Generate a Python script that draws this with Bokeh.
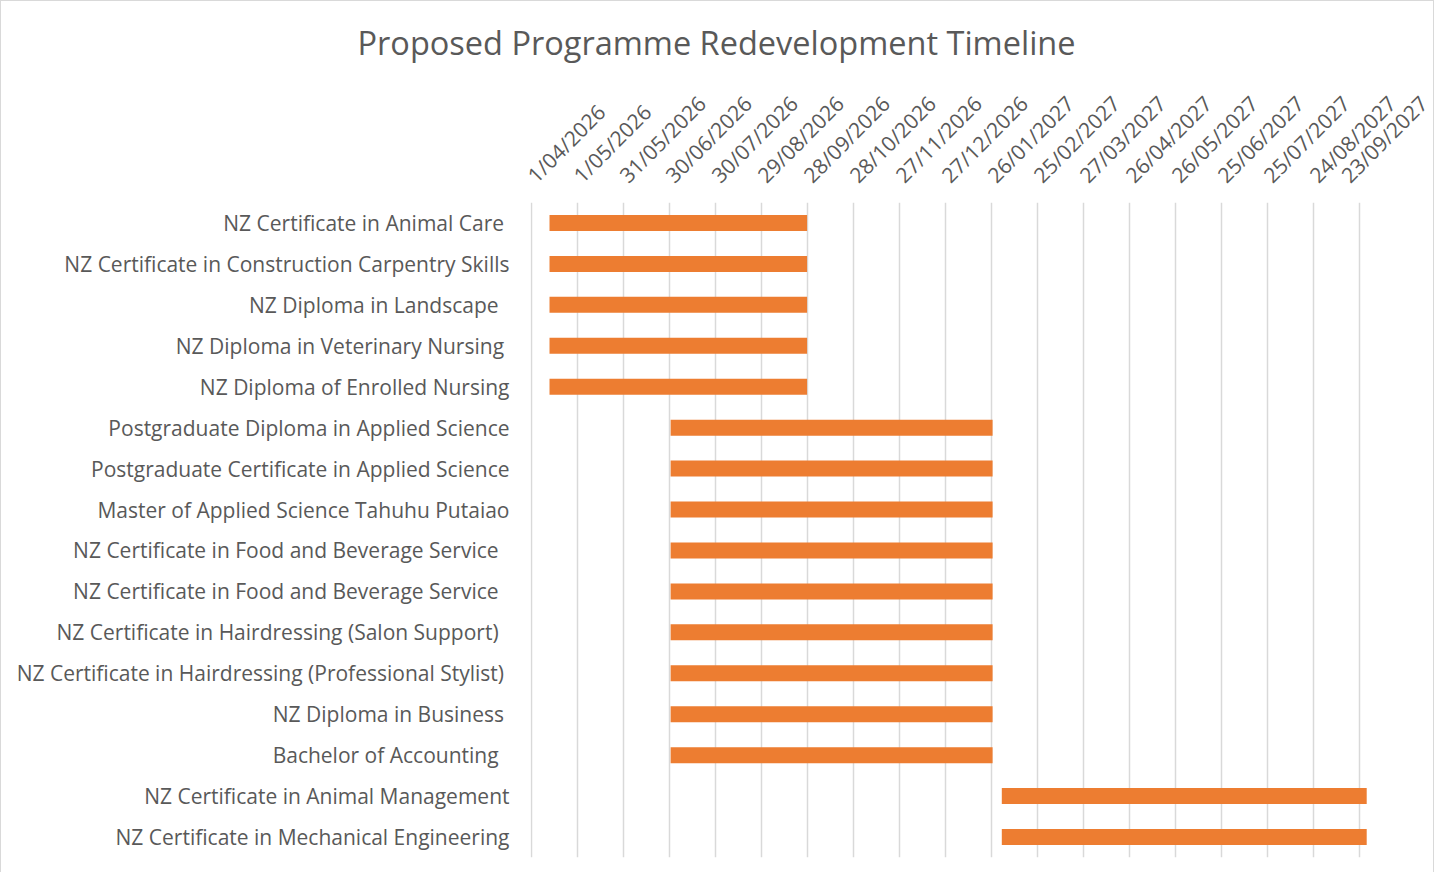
import math
from datetime import date

from bokeh.plotting import figure
from bokeh.models import FixedTicker, Range1d, ColumnDataSource
from bokeh.embed import file_html
from bokeh.resources import INLINE

# ---------------- data ----------------
programmes = [
    "NZ Certificate in Animal Care ",
    "NZ Certificate in Construction Carpentry Skills",
    "NZ Diploma in Landscape  ",
    "NZ Diploma in Veterinary Nursing ",
    "NZ Diploma of Enrolled Nursing",
    "Postgraduate Diploma in Applied Science",
    "Postgraduate Certificate in Applied Science",
    "Master of Applied Science Tahuhu Putaiao",
    "NZ Certificate in Food and Beverage Service  ",
    "NZ Certificate in Food and Beverage Service  ",
    "NZ Certificate in Hairdressing (Salon Support)  ",
    "NZ Certificate in Hairdressing (Professional Stylist) ",
    "NZ Diploma in Business ",
    "Bachelor of Accounting  ",
    "NZ Certificate in Animal Management",
    "NZ Certificate in Mechanical Engineering",
]

start_dates = [
    "13/04/2026", "13/04/2026", "13/04/2026", "13/04/2026", "13/04/2026",
    "1/07/2026", "1/07/2026", "1/07/2026", "1/07/2026", "1/07/2026",
    "1/07/2026", "1/07/2026", "1/07/2026", "1/07/2026",
    "2/02/2027", "2/02/2027",
]

end_dates = [
    "28/09/2026", "28/09/2026", "28/09/2026", "28/09/2026", "28/09/2026",
    "27/01/2027", "27/01/2027", "27/01/2027", "27/01/2027", "27/01/2027",
    "27/01/2027", "27/01/2027", "27/01/2027", "27/01/2027",
    "28/09/2027", "28/09/2027",
]

tick_labels = [
    "1/04/2026", "1/05/2026", "31/05/2026", "30/06/2026", "30/07/2026",
    "29/08/2026", "28/09/2026", "28/10/2026", "27/11/2026", "27/12/2026",
    "26/01/2027", "25/02/2027", "27/03/2027", "26/04/2027", "26/05/2027",
    "25/06/2027", "25/07/2027", "24/08/2027", "23/09/2027",
]

axis_start = "1/04/2026"
axis_end = "22/10/2027"

TITLE = "Proposed Programme Redevelopment Timeline"

# ---------------- helpers ----------------
def parse(s):
    d, m, y = (int(v) for v in s.split("/"))
    return date(y, m, d)

ORIGIN = parse(axis_start)

def days(s):
    return (parse(s) - ORIGIN).days

idx = list(range(len(programmes)))
src = ColumnDataSource(dict(
    y=idx,
    left=[days(s) for s in start_dates],
    right=[days(e) for e in end_dates],
))

tick_pos = [days(t) for t in tick_labels]

FONT = "Open Sans"
TXT = "#595959"
GRID = "#D9D9D9"
ORANGE = "#ED7D31"

p = figure(
    frame_width=873, frame_height=655,
    min_border_left=529, min_border_top=201,
    min_border_right=30, min_border_bottom=15,
    x_range=Range1d(-0.4, days(axis_end)),
    y_range=Range1d(len(programmes) - 0.5, -0.5),
    x_axis_location="above",
    toolbar_location=None, output_backend="svg",
    background_fill_color="white", border_fill_color="white",
)
p.styles = {
    "border-top": "1px solid #D9D9D9",
    "border-left": "1px solid #D9D9D9",
    "border-right": "1px solid #D9D9D9",
}
p.outline_line_color = None

p.hbar(y="y", left="left", right="right", height=0.39, source=src,
       fill_color=ORANGE, line_color=None)

# title
p.title.text = TITLE
p.title.align = "left"
p.title.offset = -173
p.title.text_font = FONT
p.title.text_font_size = "32.5px"
p.title.text_font_style = "normal"
p.title.text_color = TXT
p.title.standoff = 24

# x axis (dates, on top)
xt = FixedTicker(ticks=tick_pos)
p.xaxis.ticker = xt
p.xaxis.major_label_overrides = {d: lab for d, lab in zip(tick_pos, tick_labels)}
p.xaxis.major_label_orientation = math.pi / 4
p.xaxis.axis_line_color = None
p.xaxis.major_tick_line_color = None
p.xaxis.minor_tick_line_color = None
p.xaxis.major_tick_out = 0
p.xaxis.major_tick_in = 0
p.xaxis.major_label_standoff = 24
p.xaxis.major_label_text_font = FONT
p.xaxis.major_label_text_font_size = "21px"
p.xaxis.major_label_text_color = TXT

p.xgrid.ticker = xt
p.xgrid.grid_line_color = GRID
p.xgrid.grid_line_width = 1.5
p.ygrid.grid_line_color = None

# y axis (programmes)
p.yaxis.ticker = FixedTicker(ticks=idx)
p.yaxis.major_label_overrides = {i: name for i, name in zip(idx, programmes)}
p.yaxis.axis_line_color = None
p.yaxis.major_tick_line_color = None
p.yaxis.minor_tick_line_color = None
p.yaxis.major_tick_out = 0
p.yaxis.major_tick_in = 0
p.yaxis.major_label_standoff = 21
p.yaxis.major_label_text_font = FONT
p.yaxis.major_label_text_font_size = "21px"
p.yaxis.major_label_text_color = TXT

open("out.html", "w").write(file_html(p, INLINE))
